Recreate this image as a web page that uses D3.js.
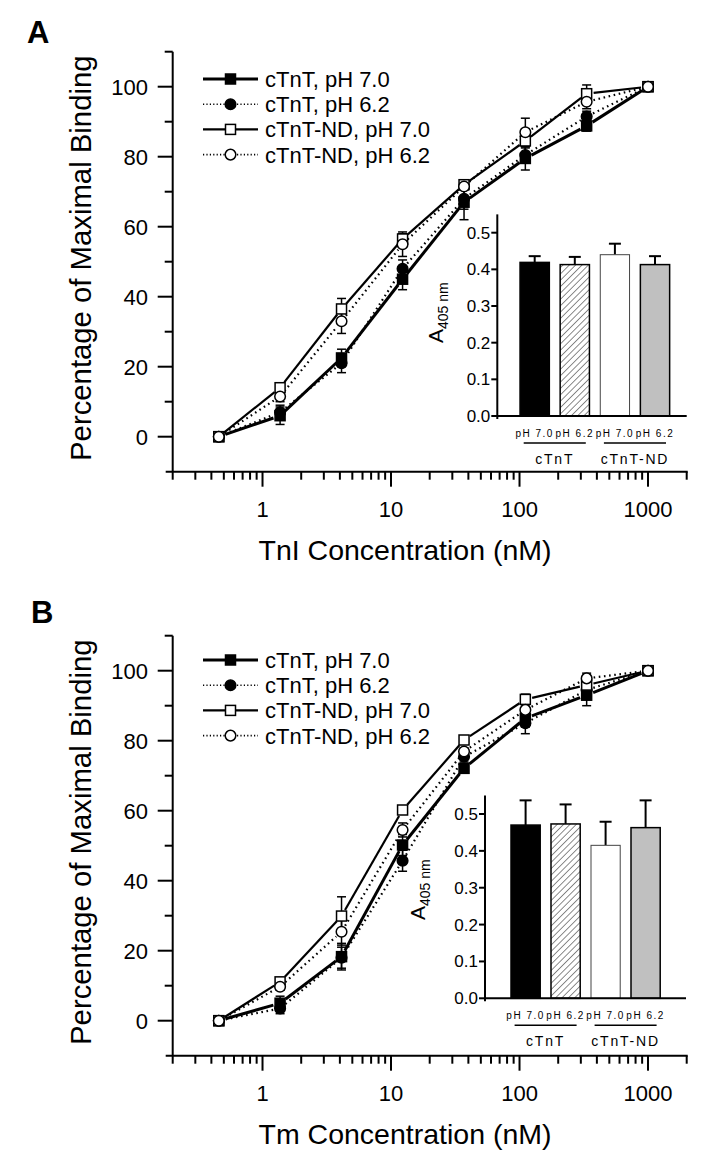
<!DOCTYPE html>
<html><head><meta charset="utf-8">
<script src="https://cdn.jsdelivr.net/npm/d3@7"></script>
<style>
body{margin:0;background:#fff}
svg{display:block}
text{font-family:'Liberation Sans',Arial,Helvetica,sans-serif;fill:#000}
</style>
</head><body>
<svg id="chart" width="706" height="1164"></svg>
<script>
// ---------- data ----------
const concentrations = [0.457, 1.37, 4.12, 12.3, 37, 111, 333, 1000];
const seriesNames = ["cTnT, pH 7.0", "cTnT, pH 6.2", "cTnT-ND, pH 7.0", "cTnT-ND, pH 6.2"];

// Panel A (TnI)
const tniCTnT70 = [0, 6, 22.5, 45, 67, 79.5, 88.8, 100];
const tniCTnT70Err = [0, 2.5, 2.5, 3, 5, 3.3, 1.5, 0];
const tniCTnT62 = [0, 7, 21, 48, 68, 80.5, 91.5, 100];
const tniCTnT62Err = [0, 2, 2.7, 2.5, 3, 2, 1.5, 0];
const tniND70 = [0, 14, 36.5, 56.5, 72, 84.5, 98, 100];
const tniND70Err = [0, 1, 3, 1.5, 1, 3.5, 2.5, 0];
const tniND62 = [0, 11.5, 33, 55, 71.5, 87, 95.7, 100];
const tniND62Err = [0, 1.5, 3.5, 3.5, 1, 4, 2, 0];

// Panel B (Tm)
const tmCTnT70 = [0, 5, 18.3, 50.2, 72.1, 86.4, 93, 100];
const tmCTnT70Err = [0, 2, 3.8, 3, 1, 2.5, 3, 0];
const tmCTnT62 = [0, 3.5, 18, 45.7, 75.4, 85, 94.5, 100];
const tmCTnT62Err = [0, 1.5, 3, 3, 1.5, 3, 2, 0];
const tmND70 = [0, 11.1, 29.9, 60.2, 80.2, 91.8, 95.9, 100];
const tmND70Err = [0, 1, 5.5, 1, 1, 1.5, 1.5, 0];
const tmND62 = [0, 9.7, 25.4, 54.5, 76.9, 88.8, 97.8, 100];
const tmND62Err = [0, 1, 3.8, 2, 1, 1.5, 1.5, 0];

// Insets
const barCategories = ["pH 7.0", "pH 6.2", "pH 7.0 ", "pH 6.2 "];
const barGroups = ["cTnT", "cTnT-ND"];
const tniBarValues = [0.419, 0.413, 0.44, 0.413];
const tniBarErrors = [0.017, 0.021, 0.03, 0.023];
const tmBarValues = [0.47, 0.473, 0.415, 0.463];
const tmBarErrors = [0.067, 0.053, 0.064, 0.074];

// Ticks
const yMajorTicks = [0, 20, 40, 60, 80, 100];
const yMinorTicks = [10, 30, 50, 70, 90, 110];
const xMajorTicks = [1, 10, 100, 1000];
const insetTicks = [0.0, 0.1, 0.2, 0.3, 0.4, 0.5];

// ---------- drawing ----------
const svg = d3.select("#chart");
const defs = svg.append("defs");
const pat = defs.append("pattern").attr("id", "hatch").attr("patternUnits", "userSpaceOnUse")
  .attr("width", 4.5).attr("height", 4.5).attr("patternTransform", "rotate(45)");
pat.append("rect").attr("width", 4.5).attr("height", 4.5).attr("fill", "#fff");
pat.append("line").attr("x1", 0).attr("y1", 0).attr("x2", 0).attr("y2", 4.5)
  .attr("stroke", "#000").attr("stroke-width", 0.9);

const styles = [
  {dash: null, width: 3, shape: "square", fill: "#000"},
  {dash: "1.6 3.6", width: 2.2, shape: "circle", fill: "#000"},
  {dash: null, width: 2.2, shape: "square", fill: "#fff"},
  {dash: "1.6 3.6", width: 2.2, shape: "circle", fill: "#fff"}
];
const legendDash = "1.2 2.2";

function txt(g, x, y, s, o) {
  o = o || {};
  const t = g.append("text")
    .attr("transform", `translate(${x},${y}) rotate(${o.rot || 0}) scale(${o.sx || 1},1)`)
    .attr("font-size", o.size || 22)
    .attr("text-anchor", o.anchor || "start")
    .text(s);
  if (o.weight) t.attr("font-weight", o.weight);
  if (o.ls) t.attr("letter-spacing", o.ls);
  return t;
}

function marker(g, x, y, st) {
  if (st.shape === "square") {
    g.append("rect").attr("x", x - 5).attr("y", y - 5).attr("width", 10).attr("height", 10)
      .attr("fill", st.fill).attr("stroke", "#000").attr("stroke-width", 1.5);
  } else {
    g.append("circle").attr("cx", x).attr("cy", y).attr("r", 5.3)
      .attr("fill", st.fill).attr("stroke", "#000").attr("stroke-width", 1.5);
  }
}

const xScale = d3.scaleLog().domain([0.2, 2000]).range([172.7, 686.7]);

function drawPanel(p) {
  const g = svg.append("g");
  const y = d3.scaleLinear().domain([-10, 110]).range([p.bottom, p.bottom - 420]);
  const x = xScale;

  // panel letter
  txt(g, p.letterX, p.letterY, p.letter, {size: 31, weight: "bold"});

  // axes
  const ax = g.append("g").attr("stroke", "#000").attr("stroke-width", 2).attr("fill", "none");
  ax.append("line").attr("x1", x.range()[0]).attr("x2", x.range()[0]).attr("y1", y(-10)).attr("y2", y(110));
  ax.append("line").attr("x1", x.range()[0] - 7).attr("x2", x.range()[1] + 1).attr("y1", y(-10)).attr("y2", y(-10));
  yMajorTicks.forEach(v => ax.append("line").attr("x1", x.range()[0] - 15).attr("x2", x.range()[0]).attr("y1", y(v)).attr("y2", y(v)));
  yMinorTicks.forEach(v => ax.append("line").attr("x1", x.range()[0] - 8).attr("x2", x.range()[0]).attr("y1", y(v)).attr("y2", y(v)));
  yMajorTicks.forEach(v => txt(g, 148, y(v) + 8, String(v), {size: 22, anchor: "end"}));

  const minor = x.ticks().filter(v => xMajorTicks.indexOf(v) < 0);
  minor.forEach(v => ax.append("line").attr("x1", x(v)).attr("x2", x(v)).attr("y1", y(-10)).attr("y2", y(-10) + 8));
  xMajorTicks.forEach(v => ax.append("line").attr("x1", x(v)).attr("x2", x(v)).attr("y1", y(-10)).attr("y2", y(-10) + 15));
  xMajorTicks.forEach(v => txt(g, x(v), y(-10) + 45, String(v), {size: 22, anchor: "middle"}));

  // titles
  txt(g, 405, y(-10) + 88, p.xTitle, {size: 28.5, anchor: "middle"});
  txt(g, 91, y(50) - 3.5, "Percentage of Maximal Binding", {size: 29.3, anchor: "middle", rot: -90});

  // series
  const series = p.series;
  const gap = 7;
  series.forEach((s, si) => {
    const st = styles[si];
    const pts = concentrations.map((c, i) => [x(c), y(s.values[i])]);
    for (let i = 0; i < pts.length - 1; i++) {
      const [x1, y1] = pts[i], [x2, y2] = pts[i + 1];
      const dx = x2 - x1, dy = y2 - y1, L = Math.hypot(dx, dy);
      if (L <= 2 * gap) continue;
      const ux = dx / L, uy = dy / L;
      const ln = g.append("line")
        .attr("x1", x1 + ux * gap).attr("y1", y1 + uy * gap)
        .attr("x2", x2 - ux * gap).attr("y2", y2 - uy * gap)
        .attr("stroke", "#000").attr("stroke-width", st.width);
      if (st.dash) ln.attr("stroke-dasharray", st.dash);
    }
  });
  series.forEach((s, si) => {
    concentrations.forEach((c, i) => {
      const e = s.errors[i];
      if (!e) return;
      const cx = x(c), yt = y(s.values[i] + e), yb = y(s.values[i] - e);
      g.append("line").attr("x1", cx).attr("x2", cx).attr("y1", yt).attr("y2", yb).attr("stroke", "#000").attr("stroke-width", 1.5);
      [yt, yb].forEach(yy => g.append("line").attr("x1", cx - 4.5).attr("x2", cx + 4.5).attr("y1", yy).attr("y2", yy).attr("stroke", "#000").attr("stroke-width", 1.5));
    });
  });
  series.forEach((s, si) => {
    concentrations.forEach((c, i) => marker(g, x(c), y(s.values[i]), styles[si]));
  });

  // legend
  seriesNames.forEach((nm, i) => {
    const ly = p.legendY + i * 25.2;
    const st = styles[i];
    const ln = g.append("line").attr("x1", 203).attr("x2", 258).attr("y1", ly).attr("y2", ly)
      .attr("stroke", "#000").attr("stroke-width", st.dash ? 1.6 : st.width);
    if (st.dash) ln.attr("stroke-dasharray", legendDash);
    marker(g, 230.5, ly, st);
    txt(g, 265, ly + 8, nm, {size: 22});
  });

  // inset
  const ins = p.inset;
  const iy = d3.scaleLinear().domain([0, 0.55]).range([ins.y0, ins.y0 - (ins.y0 - ins.y05) * 1.1]);
  const bx = d3.scaleBand().domain(barCategories).range(ins.band).paddingInner(0.27).paddingOuter(0.5);
  const fills = ["#000", "url(#hatch)", "#fff", "#c0c0c0"];
  barCategories.forEach((c, i) => {
    const v = ins.values[i], e = ins.errors[i];
    const cx = bx(c) + bx.bandwidth() / 2;
    g.append("line").attr("x1", cx).attr("x2", cx).attr("y1", iy(v)).attr("y2", iy(v + e)).attr("stroke", "#000").attr("stroke-width", 2);
    g.append("line").attr("x1", cx - 6).attr("x2", cx + 6).attr("y1", iy(v + e)).attr("y2", iy(v + e)).attr("stroke", "#000").attr("stroke-width", 2);
    g.append("rect").attr("x", bx(c)).attr("y", iy(v)).attr("width", bx.bandwidth()).attr("height", iy(0) - iy(v))
      .attr("fill", fills[i]).attr("stroke", i === 2 ? "#444" : "#000").attr("stroke-width", i === 2 ? 1 : 1.5);
    txt(g, cx, ins.y0 + 21, c.trim(), {size: 10, anchor: "middle", ls: 1.5});
  });
  const ia = g.append("g").attr("stroke", "#000").attr("stroke-width", 2);
  ia.append("line").attr("x1", ins.axisX).attr("x2", ins.axisX).attr("y1", ins.y0 + 3).attr("y2", iy(0.55));
  ia.append("line").attr("x1", ins.axisX).attr("x2", ins.axisEnd).attr("y1", ins.y0).attr("y2", ins.y0);
  insetTicks.forEach(v => {
    ia.append("line").attr("x1", ins.axisX - 6).attr("x2", ins.axisX).attr("y1", iy(v)).attr("y2", iy(v));
    txt(g, ins.axisX - 7, iy(v) + 6, v.toFixed(1), {size: 17, anchor: "end"});
  });
  barGroups.forEach((gn, gi) => {
    const c1 = bx(barCategories[gi * 2]) + bx.bandwidth() / 2;
    const c2 = bx(barCategories[gi * 2 + 1]) + bx.bandwidth() / 2;
    g.append("line").attr("x1", c1 - 11).attr("x2", c2 + 11).attr("y1", ins.y0 + 27).attr("y2", ins.y0 + 27)
      .attr("stroke", "#000").attr("stroke-width", 1.6);
    txt(g, (c1 + c2) / 2, ins.y0 + 48, gn, {size: 14, anchor: "middle", ls: 1.8});
  });
  // A405 nm label
  const lab = g.append("text").attr("transform", `translate(${ins.labX},${ins.labY}) rotate(-90)`)
    .attr("font-size", 21);
  lab.append("tspan").text("A");
  lab.append("tspan").attr("font-size", 14).attr("dy", 5).text("405 nm");
}

drawPanel({
  letter: "A", letterX: 27, letterY: 43, bottom: 471.7, xTitle: "TnI Concentration (nM)", legendY: 79,
  series: [
    {values: tniCTnT70, errors: tniCTnT70Err},
    {values: tniCTnT62, errors: tniCTnT62Err},
    {values: tniND70, errors: tniND70Err},
    {values: tniND62, errors: tniND62Err}
  ],
  inset: {axisX: 497.3, axisEnd: 686.7, band: [500, 689.7], y0: 416, y05: 232.7, labX: 443, labY: 343,
    values: tniBarValues, errors: tniBarErrors}
});
drawPanel({
  letter: "B", letterX: 31, letterY: 623, bottom: 1055.7, xTitle: "Tm Concentration (nM)", legendY: 660,
  series: [
    {values: tmCTnT70, errors: tmCTnT70Err},
    {values: tmCTnT62, errors: tmCTnT62Err},
    {values: tmND70, errors: tmND70Err},
    {values: tmND62, errors: tmND62Err}
  ],
  inset: {axisX: 485, axisEnd: 686, band: [491, 680.2], y0: 998.3, y05: 814, labX: 425, labY: 920,
    values: tmBarValues, errors: tmBarErrors}
});
</script>
</body></html>
